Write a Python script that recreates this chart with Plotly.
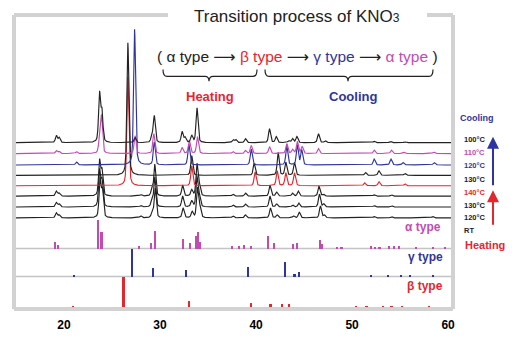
import numpy as np
import plotly.graph_objects as go

# ---- diffraction peaks of each measured pattern (2θ in degrees, height in a.u.) ----
c100_pos = [19.2, 19.5, 23.7, 23.95, 27.4, 29.15, 29.4, 32.3, 32.6, 33.3, 33.85, 37.6, 37.9, 38.9,
            41.4, 42.1, 43.4, 43.8, 44.25, 46.5, 47.2, 52.3, 54.0, 55.5]
c100_int = [7, 5, 49, 30, 5, 6, 27, 11, 5, 7, 35, 3, 3, 4, 14, 6, 2, 4, 6, 9, 2, 1.5, 1.5, 1]

c110_pos = [19.2, 19.5, 21.3, 23.7, 23.9, 27.4, 29.35, 32.3, 33.05, 33.9, 37.6, 38.9, 39.5,
            41.4, 43.2, 43.8, 44.3, 44.8, 46.5, 52.3, 54.1, 55.4, 58.5]
c110_int = [3, 2, 2, 12, 37, 18, 20, 6, 13, 17, 2, 3, 8, 7, 10, 4, 12, 7, 5, 3.5, 3.5, 1.5, 1.5]

c120_pos = [21.3, 27.35, 29.4, 33.0, 39.5, 43.2, 44.3, 44.75, 52.3, 54.05, 55.3, 58.55]
c120_int = [3, 137, 23, 21, 16, 19, 20, 15, 6, 6, 2.5, 2.5]

c130_pos = [26.65, 33.3, 39.8, 42.3, 43.1, 44.0, 51.4, 52.8, 55.5]
c130_int = [134, 20, 12, 23, 13, 13, 3, 4.5, 2]

h140_pos = [26.65, 33.3, 39.9, 42.2, 43.1, 44.0, 51.3, 52.8, 55.5]
h140_int = [110, 20, 14, 15, 13, 13, 3, 4, 2]

h130_pos = [19.2, 19.5, 23.7, 23.95, 28.0, 29.15, 29.45, 32.35, 33.3, 33.85, 34.1, 37.6, 38.9,
            41.45, 42.15, 43.8, 44.4, 46.55, 47.0, 52.3, 54.1]
h130_int = [5, 3, 35, 25, 1.5, 6, 32, 11, 6, 32, 10, 2, 3, 11, 4, 3, 5, 10, 2, 1.5, 1.5]

h120_pos = [19.2, 19.5, 23.7, 23.95, 28.0, 29.15, 29.45, 32.35, 33.3, 33.85, 34.1, 37.6, 38.9,
            41.45, 42.15, 43.8, 44.45, 46.6, 47.05, 52.3, 54.1]
h120_int = [4.5, 3, 36, 26, 1.5, 6, 30, 11, 6, 30, 10, 2, 3, 11, 3, 2, 4, 13, 3, 1.5, 1.5]

rt_pos = [19.2, 19.5, 23.75, 24.0, 28.0, 29.2, 29.5, 32.4, 33.35, 33.9, 34.15, 37.6, 38.9,
          41.5, 42.2, 43.9, 44.5, 46.7, 47.1, 52.3, 54.1, 58.4]
rt_int = [5, 3, 38, 27, 2, 6, 30, 10, 6, 30, 10, 2, 3, 10, 3, 2, 6, 12, 3, 1.5, 1.5, 1.5]

# ---- reference stick patterns ----
alpha_pos = [19.03, 19.34, 23.54, 23.9, 27.8, 29.06, 29.5, 32.36, 33.1, 33.75, 33.96, 34.17,
             37.46, 38.2, 38.72, 39.45, 41.2, 41.9, 43.8, 44.3, 46.67, 46.9, 48.4, 48.9,
             51.98, 52.4, 52.85, 53.8, 54.4, 54.9, 56.7, 58.4, 59.7]
alpha_int = [7, 3.7, 29, 17, 2.3, 5.3, 17.7, 9.3, 5.3, 12.7, 16.7, 6.7,
             2.7, 2.3, 3.7, 2.7, 12.7, 6, 5, 6, 8.3, 4.3, 2, 1.7,
             2.7, 1.7, 1.7, 2.7, 2.7, 2.3, 1.7, 2, 1.3]

gamma_pos = [21.04, 27.08, 29.24, 32.7, 39.2, 43.0, 44.0, 44.5, 52.0, 53.7, 55.1, 56.0, 58.4]
gamma_int = [2, 28, 8.7, 7, 10, 14.3, 2.7, 4.3, 2, 2, 1, 1, 1.7]

beta_pos = [20.97, 26.2, 33.0, 39.45, 41.5, 42.7, 43.4, 50.4, 51.5, 53.2, 54.1, 55.2, 58.0]
beta_int = [1, 30, 6.3, 4, 2.7, 2.7, 2.7, 1, 1, 1, 1, 1, 1]

x_ticks = [20, 30, 40, 50, 60]
temp_labels = ["100°C", "110°C", "120°C", "130°C", "140°C", "130°C", "120°C", "RT"]

BLACK = "#222222"
MAGENTA = "#c24bb3"
BLUE = "#2f35a0"
RED = "#e4262f"
GRAY = "#d2d2d2"

# figure geometry (pixels)
W, H = 518, 344
ML, MR, MT, MB = 16, 67, 16, 34
PW, PH = W - ML - MR, H - MT - MB


def px_x(px):
    return (px - ML) / PW


def px_y(py):
    return (H - MB - py) / PH


two_theta = np.arange(15.0, 60.31, 0.01)


def profile(pos, inten, fwhm=0.24):
    """Pseudo-Voigt line shape summed over a peak list."""
    y = np.zeros_like(two_theta)
    g = fwhm / 2
    s = fwhm / 2.3548
    for p, a in zip(pos, inten):
        d = two_theta - p
        lor = g * g / (d * d + g * g)
        gau = np.exp(-0.5 * (d / s) ** 2)
        y += a * (0.45 * lor + 0.55 * gau)
    return y


fig = go.Figure()

# stick patterns (drawn as thin bars on their own baselines)
for pos, inten, base, col in [(alpha_pos, alpha_int, 59, MAGENTA),
                              (gamma_pos, gamma_int, 30.7, BLUE),
                              (beta_pos, beta_int, 0, RED)]:
    fig.add_trace(go.Bar(x=pos, y=inten, base=base, width=0.22,
                         marker=dict(color=col, line=dict(width=0)),
                         hoverinfo="skip", showlegend=False))

# measured patterns, stacked (bottom first so upper curves sit on top)
patterns = [
    (rt_pos, rt_int, 90, BLACK),
    (h120_pos, h120_int, 101, BLACK),
    (h130_pos, h130_int, 112, BLACK),
    (h140_pos, h140_int, 122.5, RED),
    (c130_pos, c130_int, 133, BLACK),
    (c120_pos, c120_int, 143.5, BLUE),
    (c110_pos, c110_int, 155, MAGENTA),
    (c100_pos, c100_int, 166, BLACK),
]
for pos, inten, base, col in patterns:
    fig.add_trace(go.Scatter(x=two_theta, y=base + profile(pos, inten), mode="lines",
                             line=dict(color=col, width=1.15), hoverinfo="skip",
                             showlegend=False))

shapes = []
# separators between the stick patterns
for yb in (59, 30.7):
    shapes.append(dict(type="line", xref="paper", yref="y", x0=0, x1=1, y0=yb, y1=yb,
                       line=dict(color="#c4c4c4", width=1.5), layer="below"))

# frame with an opening for the title
frame = [((14, 15), (14, 312)), ((453, 15), (453, 312)), ((14, 312), (453, 312)),
         ((14, 15), (168, 15)), ((427, 15), (453, 15))]
for (xa, ya), (xb, yb) in frame:
    shapes.append(dict(type="line", xref="paper", yref="paper",
                       x0=px_x(xa), y0=px_y(ya), x1=px_x(xb), y1=px_y(yb),
                       line=dict(color=GRAY, width=4)))


def brace(x0, x1, xc, ytop=70, ymid=77, ybot=82):
    pts = lambda x, y: f"{px_x(x):.5f},{px_y(y):.5f}"
    return ("M " + pts(x0, ytop) + " Q " + pts(x0, ymid) + " " + pts(x0 + 4, ymid) +
            " L " + pts(xc - 4, ymid) + " Q " + pts(xc, ymid) + " " + pts(xc, ybot) +
            " Q " + pts(xc, ymid) + " " + pts(xc + 4, ymid) +
            " L " + pts(x1 - 4, ymid) + " Q " + pts(x1, ymid) + " " + pts(x1, ytop))


for x0, x1, xc in [(163, 257, 209), (265, 433, 348)]:
    shapes.append(dict(type="path", xref="paper", yref="paper", path=brace(x0, x1, xc),
                       line=dict(color=BLACK, width=1.2)))

FONT = "Arial, Liberation Sans, sans-serif"
ann = []


def label(text, px, py, size, color=BLACK, bold=False, xanchor="center", family=FONT):
    ann.append(dict(text=text, x=px_x(px), y=px_y(py), xref="paper", yref="paper",
                    showarrow=False, xanchor=xanchor, yanchor="middle",
                    font=dict(family=family, size=size, color=color,
                              weight="bold" if bold else "normal")))


ARROW = "<span style='font-family:DejaVu Sans'>⟶</span>"
label("Transition process of KNO<span style='font-size:12px'>3</span>", 297, 17, 17)
label("( α type %s <span style='color:%s'>β type</span> %s <span style='color:%s'>γ type</span>"
      " %s <span style='color:%s'>α type</span> )" % (ARROW, RED, ARROW, BLUE, ARROW, MAGENTA),
      297, 57, 15.5)
label("Heating", 210, 97, 13, RED, True)
label("Cooling", 353, 97, 13, BLUE, True)

label("α type", 423, 229, 12, MAGENTA, True)
label("γ type", 425, 259, 12, BLUE, True)
label("β type", 425, 289, 12, RED, True)

label("Cooling", 477, 119, 9, BLUE, True)
label("Heating", 485, 247, 11, RED, True)
temp_colors = [BLACK, MAGENTA, BLUE, BLACK, RED, BLACK, BLACK, BLACK]
temp_rows = [141, 154, 167, 181, 194, 207, 220, 233]
for t, c, r in zip(temp_labels, temp_colors, temp_rows):
    label(t, 462, r, 7.5, c, True, xanchor="left")

# heating / cooling arrows
for y_head, y_tail, col in [(138, 188, BLUE), (192, 228, RED)]:
    ann.append(dict(x=px_x(493), y=px_y(y_head), xref="paper", yref="paper",
                    ax=0, ay=y_tail - y_head, axref="pixel", ayref="pixel",
                    text="", showarrow=True, arrowhead=2, arrowsize=1.2,
                    arrowwidth=2, arrowcolor=col))

fig.update_layout(
    width=W, height=H,
    margin=dict(l=ML, r=MR, t=MT, b=MB),
    paper_bgcolor="white", plot_bgcolor="white",
    barmode="overlay", bargap=0,
    shapes=shapes, annotations=ann,
    xaxis=dict(range=[15.0, 60.3], tickvals=x_ticks, showgrid=False, zeroline=False,
               showline=False, ticks="outside", ticklen=7, tickcolor="rgba(0,0,0,0)",
               tickfont=dict(family=FONT, size=12, color="black", weight="bold")),
    yaxis=dict(range=[0, 294], visible=False, showgrid=False, zeroline=False),
)

fig.write_html("out.html")
